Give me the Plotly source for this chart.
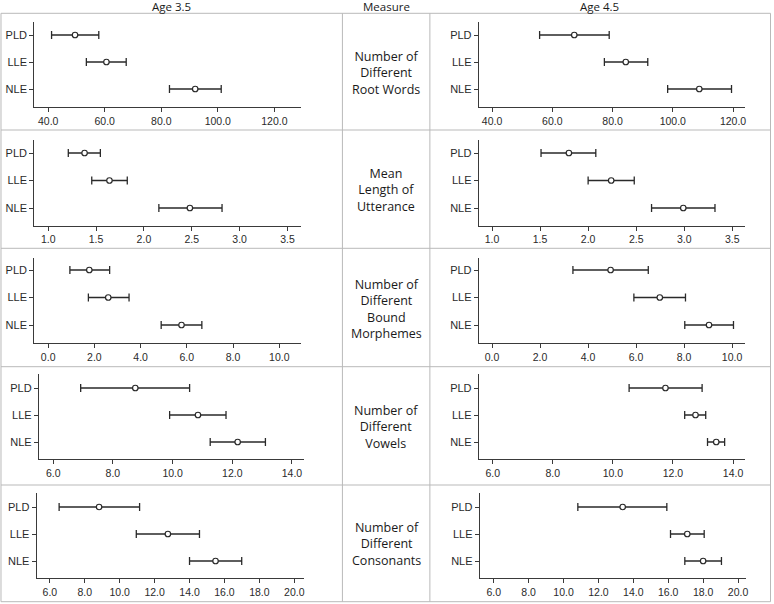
import plotly.graph_objects as go

# ---------------- data ----------------
groups = ["PLD", "LLE", "NLE"]
measures = [
    "Number of<br>Different<br>Root Words",
    "Mean<br>Length of<br>Utterance",
    "Number of<br>Different<br>Bound<br>Morphemes",
    "Number of<br>Different<br>Vowels",
    "Number of<br>Different<br>Consonants",
]
headers = ["Age 3.5", "Measure", "Age 4.5"]

# Number of Different Root Words
ndrw_35_mean = [49.5, 60.6, 92.0]
ndrw_35_lo = [41.2, 53.5, 82.9]
ndrw_35_hi = [57.9, 67.6, 101.2]
ndrw_45_mean = [67.3, 84.4, 108.8]
ndrw_45_lo = [55.8, 77.3, 98.3]
ndrw_45_hi = [78.9, 91.7, 119.5]

# Mean Length of Utterance
mlu_35_mean = [1.38, 1.64, 2.48]
mlu_35_lo = [1.21, 1.455, 2.156]
mlu_35_hi = [1.545, 1.826, 2.816]
mlu_45_mean = [1.80, 2.24, 2.99]
mlu_45_lo = [1.51, 2.00, 2.66]
mlu_45_hi = [2.08, 2.48, 3.32]

# Number of Different Bound Morphemes
ndbm_35_mean = [1.78, 2.60, 5.77]
ndbm_35_lo = [0.94, 1.74, 4.89]
ndbm_35_hi = [2.66, 3.50, 6.65]
ndbm_45_mean = [4.94, 6.99, 9.04]
ndbm_45_lo = [3.37, 5.91, 8.03]
ndbm_45_hi = [6.51, 8.06, 10.06]

# Number of Different Vowels
ndv_35_mean = [8.75, 10.85, 12.18]
ndv_35_lo = [6.92, 9.90, 11.26]
ndv_35_hi = [10.57, 11.79, 13.11]
ndv_45_mean = [11.75, 12.75, 13.44]
ndv_45_lo = [10.54, 12.39, 13.15]
ndv_45_hi = [12.97, 13.09, 13.72]

# Number of Different Consonants
ndc_35_mean = [8.82, 12.76, 15.49]
ndc_35_lo = [6.53, 10.95, 14.0]
ndc_35_hi = [11.14, 14.57, 16.99]
ndc_45_mean = [13.39, 17.09, 18.0]
ndc_45_lo = [10.82, 16.13, 16.95]
ndc_45_hi = [15.92, 18.06, 19.05]

# x tick values per measure
ticks_ndrw = [40, 60, 80, 100, 120]
ticks_mlu = [1.0, 1.5, 2.0, 2.5, 3.0, 3.5]
ticks_ndbm = [0, 2, 4, 6, 8, 10]
ticks_ndv = [6, 8, 10, 12, 14]
ticks_ndc = [6, 8, 10, 12, 14, 16, 18, 20]

# ---------------- layout helpers ----------------
W, H = 774, 604


def px(x):
    return x / W


def py(y):
    return 1 - y / H


rows = [
    # (axis_top, axis_bottom, PLD_y, NLE_y)
    (22, 107, 35, 89),
    (140, 225.5, 153, 208),
    (258, 343, 270, 325),
    (374, 459, 388, 442),
    (493, 578, 507, 561),
]
row_borders = [13.3, 130, 248.3, 366.7, 485, 601.7]

left_x = [(34.3, 302), (34.3, 302), (34.3, 302), (39, 305), (36.7, 305)]
right_x = [(480, 746.7), (480, 746.7), (480, 746.7), (480, 746.7), (481, 748)]
left_rng = [[35.06, 129.5], [0.854, 3.643], [-0.604, 10.95], [5.52, 14.41], [5.24, 20.57]]
right_rng = [[35.6, 123.9], [0.862, 3.63], [-0.553, 10.53], [5.535, 14.39], [5.2, 20.46]]

panels_data = [
    (ndrw_35_mean, ndrw_35_lo, ndrw_35_hi, ndrw_45_mean, ndrw_45_lo, ndrw_45_hi, ticks_ndrw),
    (mlu_35_mean, mlu_35_lo, mlu_35_hi, mlu_45_mean, mlu_45_lo, mlu_45_hi, ticks_mlu),
    (ndbm_35_mean, ndbm_35_lo, ndbm_35_hi, ndbm_45_mean, ndbm_45_lo, ndbm_45_hi, ticks_ndbm),
    (ndv_35_mean, ndv_35_lo, ndv_35_hi, ndv_45_mean, ndv_45_lo, ndv_45_hi, ticks_ndv),
    (ndc_35_mean, ndc_35_lo, ndc_35_hi, ndc_45_mean, ndc_45_lo, ndc_45_hi, ticks_ndc),
]

INK = "#2a2a2a"
AXIS = "#3a3a3a"
GRID = "#b9b9b9"
TICKFONT = dict(family="Liberation Sans, Arial, sans-serif", size=10.5, color=INK)
TEXTFONT = dict(family="Open Sans, sans-serif", size=12.5, color="#1a1a1a")

fig = go.Figure()
layout = dict(
    width=W, height=H,
    margin=dict(l=0, r=0, t=0, b=0),
    paper_bgcolor="white", plot_bgcolor="white",
    showlegend=False,
)

idx = 0
for r, (m35, lo35, hi35, m45, lo45, hi45, tv) in enumerate(panels_data):
    top, bot, ypld, ynle = rows[r]
    s = (ynle - ypld) / 2.0
    yr = [-(bot - ynle) / s, 2 + (ypld - top) / s]
    for side in range(2):
        idx += 1
        if side == 0:
            mean, lo, hi, (xl, xr), rng = m35, lo35, hi35, left_x[r], left_rng[r]
        else:
            mean, lo, hi, (xl, xr), rng = m45, lo45, hi45, right_x[r], right_rng[r]
        sfx = "" if idx == 1 else str(idx)
        fig.add_trace(go.Scatter(
            x=mean, y=groups,
            mode="markers",
            marker=dict(symbol="circle", size=5.5, color="white",
                        line=dict(color=INK, width=1.2)),
            error_x=dict(type="data", symmetric=False,
                         array=[h - m for h, m in zip(hi, mean)],
                         arrayminus=[m - l for m, l in zip(mean, lo)],
                         color=INK, thickness=1.3, width=4),
            xaxis="x" + sfx, yaxis="y" + sfx,
            hoverinfo="x+y",
        ))
        layout["xaxis" + sfx] = dict(
            domain=[px(xl), px(xr)], range=rng, anchor="y" + sfx,
            tickvals=tv, tickformat=".1f", ticks="outside", ticklen=4,
            tickcolor=AXIS, showline=True, linecolor=AXIS, linewidth=1,
            showgrid=False, zeroline=False, tickfont=TICKFONT, fixedrange=True,
        )
        layout["yaxis" + sfx] = dict(
            domain=[py(bot), py(top)], range=yr, anchor="x" + sfx,
            type="category", categoryorder="array", categoryarray=groups[::-1],
            ticks="outside", ticklen=4, tickcolor=AXIS, showline=True,
            linecolor=AXIS, linewidth=1, showgrid=False, zeroline=False,
            tickfont=dict(family="Liberation Sans, Arial, sans-serif", size=11, color=INK),
            fixedrange=True,
        )

# table grid lines
shapes = []
XL, XM1, XM2, XR = 1, 343.3, 431, 772.5
for yb in row_borders:
    shapes.append(dict(type="line", xref="paper", yref="paper",
                       x0=px(XL), x1=px(XR), y0=py(yb), y1=py(yb),
                       line=dict(color=GRID, width=1)))
for xv in [XL, XM1, XM2, XR]:
    shapes.append(dict(type="line", xref="paper", yref="paper",
                       x0=px(xv), x1=px(xv), y0=py(row_borders[0]), y1=py(row_borders[-1]),
                       line=dict(color=GRID, width=1)))
layout["shapes"] = shapes

annotations = []
for h, xc in zip(headers, [172, 387, 601]):
    annotations.append(dict(text=h, x=px(xc), y=py(6.5), xref="paper", yref="paper",
                            showarrow=False, xanchor="center", yanchor="middle",
                            font=dict(family="Open Sans, sans-serif", size=11.5, color="#1a1a1a")))
for r, m in enumerate(measures):
    yc = (row_borders[r] + row_borders[r + 1]) / 2 + 1
    annotations.append(dict(text=m, x=px(387), y=py(yc), xref="paper", yref="paper",
                            showarrow=False, xanchor="center", yanchor="middle",
                            align="center", font=TEXTFONT))
layout["annotations"] = annotations

fig.update_layout(**layout)
fig.write_html(
    "out.html",
    config={"displayModeBar": False},
    post_script="document.body.style.margin='0';document.body.style.overflow='hidden';",
)
